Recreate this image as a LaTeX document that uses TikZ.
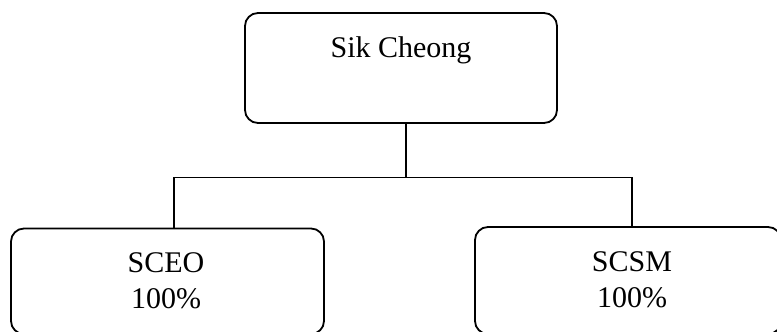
\documentclass[tikz,border=0pt]{standalone}
\usepackage{fontspec}
\setmainfont{Liberation Serif}
\begin{document}
\begin{tikzpicture}[x=1pt,y=-1pt,
  box/.style={draw, line width=1.8pt, rounded corners=13pt, inner sep=0pt},
  txt/.style={font=\fontsize{30}{36}\selectfont, anchor=base, inner sep=0pt},
  conn/.style={line width=1.8pt}]
\useasboundingbox (0,0) rectangle (777,332);
\node[box, minimum width=312pt, minimum height=110pt] (top) at (401,68) {};
\node[box, minimum width=313pt, minimum height=105.5pt] (left) at (167.5,281.25) {};
\node[box, minimum width=306pt, minimum height=107pt] (right) at (628,280.5) {};
\coordinate (j) at (406,177.5);
\coordinate (jl) at (174,177.5);
\coordinate (jr) at (632,177.5);
\draw[conn] (top.south -| j) -- (j);
\draw[conn] (jl |- left.north) -- (jl) -- (jr) -- (jr |- right.north);
\node[txt] (t0) at (401,57) {Sik Cheong};
\node[txt] (t1) at (166,272) {SCEO};
\node[txt] (t2) at (166,308) {100\%};
\node[txt] (t3) at (632,271) {SCSM};
\node[txt] (t4) at (632,307) {100\%};
\end{tikzpicture}
\end{document}
